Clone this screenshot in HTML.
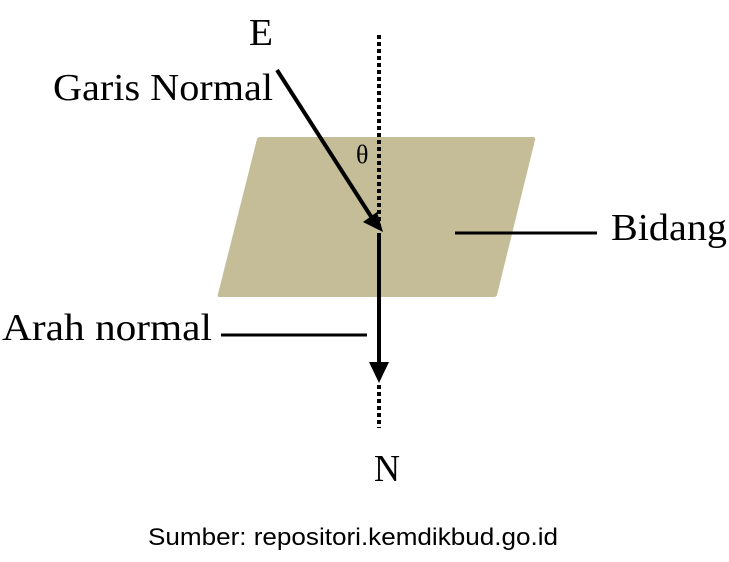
<!DOCTYPE html>
<html><head><meta charset="utf-8"><style>html,body{margin:0;padding:0;background:#fff}svg{display:block}</style></head>
<body>
<svg width="729" height="562" viewBox="0 0 729 562" xmlns="http://www.w3.org/2000/svg">
<path d="M260,137 L533,137 Q536,137 535,140 L497,295 Q496,297 494,297 L220,297 Q217,297 218,294 L257,139 Q258,137 260,137 Z" fill="#c4bd98"/>
<line x1="379" y1="35" x2="379" y2="228" stroke="#000" stroke-width="4" stroke-dasharray="4,3"/>
<line x1="379" y1="385" x2="379" y2="428" stroke="#000" stroke-width="4" stroke-dasharray="4,3"/>
<line x1="277" y1="70" x2="372" y2="218" stroke="#000" stroke-width="4"/>
<polygon points="383,232 363,222 377,212" fill="#000"/>
<line x1="379" y1="233" x2="379" y2="365" stroke="#000" stroke-width="4"/>
<polygon points="369,362 389,362 379,383" fill="#000"/>
<line x1="455" y1="233" x2="597" y2="233" stroke="#000" stroke-width="3"/>
<line x1="221" y1="335" x2="367" y2="335" stroke="#000" stroke-width="3"/>
<g font-family="'Liberation Serif', serif" fill="#000" font-size="38">
<text x="249" y="45" textLength="24" lengthAdjust="spacingAndGlyphs">E</text>
<text x="53" y="100" textLength="220" lengthAdjust="spacingAndGlyphs">Garis Normal</text>
<text x="611" y="240" textLength="116" lengthAdjust="spacingAndGlyphs">Bidang</text>
<text x="2" y="340" textLength="210" lengthAdjust="spacingAndGlyphs">Arah normal</text>
<text x="374" y="481" textLength="26" lengthAdjust="spacingAndGlyphs">N</text>
<text x="356" y="163" font-size="26">θ</text>
</g>
<text x="148" y="545" font-family="'Liberation Sans', sans-serif" font-size="24" textLength="410" lengthAdjust="spacingAndGlyphs">Sumber: repositori.kemdikbud.go.id</text>
</svg>
</body></html>
